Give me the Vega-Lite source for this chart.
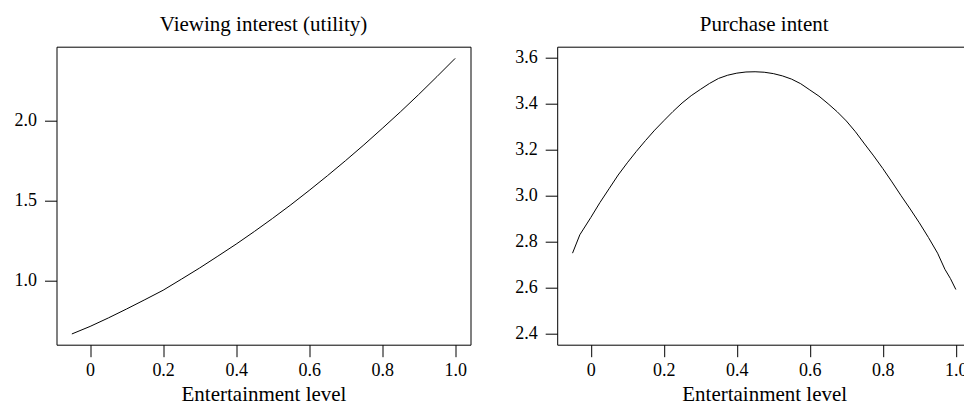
{
  "$schema": "https://vega.github.io/schema/vega-lite/v6.json",
  "padding": {"left": 13.5, "top": 12.7, "right": 0, "bottom": 0},
  "autosize": {"type": "pad"},
  "bounds": "flush",
  "spacing": 86.7,
  "config": {
    "font": "Liberation Serif",
    "view": {"stroke": "black", "strokeWidth": 1},
    "axis": {
      "grid": false,
      "domain": false,
      "ticks": true,
      "tickColor": "black",
      "tickSize": 12,
      "tickWidth": 1,
      "labelColor": "black",
      "labelFont": "Liberation Serif",
      "labelFontSize": 18,
      "titleFont": "Liberation Serif",
      "titleFontSize": 21,
      "titleFontWeight": "normal",
      "titleColor": "black"
    },
    "title": {
      "font": "Liberation Serif",
      "fontSize": 21,
      "fontWeight": "normal",
      "color": "black",
      "baseline": "alphabetic",
      "offset": 12,
      "anchor": "middle"
    }
  },
  "hconcat": [
    {
      "title": "Viewing interest (utility)",
      "width": 414,
      "height": 298,
      "data": {"values": [
        {"x": -0.05, "y": 0.668},
        {"x": 0.0, "y": 0.715},
        {"x": 0.05, "y": 0.768},
        {"x": 0.1, "y": 0.824},
        {"x": 0.15, "y": 0.882},
        {"x": 0.2, "y": 0.941},
        {"x": 0.25, "y": 1.010},
        {"x": 0.3, "y": 1.080},
        {"x": 0.35, "y": 1.154},
        {"x": 0.4, "y": 1.229},
        {"x": 0.45, "y": 1.308},
        {"x": 0.5, "y": 1.390},
        {"x": 0.55, "y": 1.475},
        {"x": 0.6, "y": 1.564},
        {"x": 0.65, "y": 1.656},
        {"x": 0.7, "y": 1.751},
        {"x": 0.75, "y": 1.849},
        {"x": 0.8, "y": 1.951},
        {"x": 0.85, "y": 2.055},
        {"x": 0.9, "y": 2.163},
        {"x": 0.95, "y": 2.275},
        {"x": 1.0, "y": 2.389}
      ]},
      "mark": {"type": "line", "color": "black", "strokeWidth": 1},
      "encoding": {
        "x": {
          "field": "x", "type": "quantitative",
          "scale": {"domain": [-0.092, 1.042], "nice": false, "zero": false},
          "axis": {
            "title": "Entertainment level",
            "values": [0, 0.2, 0.4, 0.6, 0.8, 1.0],
            "labelExpr": "datum.value == 0 ? '0' : format(datum.value, '.1f')",
            "labelFont": "Liberation Serif",
            "titleFont": "Liberation Serif",
            "labelPadding": 5,
            "titleBaseline": "alphabetic",
            "titleY": 55.5
          }
        },
        "y": {
          "field": "y", "type": "quantitative",
          "scale": {"domain": [0.601, 2.462], "nice": false, "zero": false},
          "axis": {
            "title": null,
            "values": [1.0, 1.5, 2.0],
            "format": ".1f",
            "labelFont": "Liberation Serif",
            "labelPadding": 8
          }
        }
      }
    },
    {
      "title": "Purchase intent",
      "width": 414,
      "height": 298,
      "data": {"values": [
        {"x": -0.05, "y": 2.750},
        {"x": -0.04, "y": 2.790},
        {"x": -0.03, "y": 2.830},
        {"x": -0.02, "y": 2.855},
        {"x": 0.0, "y": 2.905},
        {"x": 0.025, "y": 2.970},
        {"x": 0.05, "y": 3.030},
        {"x": 0.075, "y": 3.090},
        {"x": 0.1, "y": 3.143},
        {"x": 0.125, "y": 3.193},
        {"x": 0.15, "y": 3.240},
        {"x": 0.175, "y": 3.285},
        {"x": 0.2, "y": 3.326},
        {"x": 0.225, "y": 3.366},
        {"x": 0.25, "y": 3.403},
        {"x": 0.275, "y": 3.435},
        {"x": 0.3, "y": 3.462},
        {"x": 0.325, "y": 3.488},
        {"x": 0.35, "y": 3.510},
        {"x": 0.375, "y": 3.524},
        {"x": 0.4, "y": 3.533},
        {"x": 0.425, "y": 3.538},
        {"x": 0.45, "y": 3.539},
        {"x": 0.475, "y": 3.537},
        {"x": 0.5, "y": 3.531},
        {"x": 0.525, "y": 3.521},
        {"x": 0.55, "y": 3.507},
        {"x": 0.575, "y": 3.487},
        {"x": 0.6, "y": 3.460},
        {"x": 0.625, "y": 3.433},
        {"x": 0.65, "y": 3.400},
        {"x": 0.675, "y": 3.365},
        {"x": 0.7, "y": 3.325},
        {"x": 0.725, "y": 3.278},
        {"x": 0.75, "y": 3.225},
        {"x": 0.775, "y": 3.173},
        {"x": 0.8, "y": 3.118},
        {"x": 0.825, "y": 3.060},
        {"x": 0.85, "y": 3.000},
        {"x": 0.875, "y": 2.942},
        {"x": 0.9, "y": 2.882},
        {"x": 0.925, "y": 2.818},
        {"x": 0.95, "y": 2.750},
        {"x": 0.97, "y": 2.680},
        {"x": 0.985, "y": 2.640},
        {"x": 1.0, "y": 2.592}
      ]},
      "mark": {"type": "line", "color": "black", "strokeWidth": 1},
      "encoding": {
        "x": {
          "field": "x", "type": "quantitative",
          "scale": {"domain": [-0.092, 1.042], "nice": false, "zero": false},
          "axis": {
            "title": "Entertainment level",
            "values": [0, 0.2, 0.4, 0.6, 0.8, 1.0],
            "labelExpr": "datum.value == 0 ? '0' : format(datum.value, '.1f')",
            "labelFont": "Liberation Serif",
            "titleFont": "Liberation Serif",
            "labelPadding": 5,
            "titleBaseline": "alphabetic",
            "titleY": 55.5
          }
        },
        "y": {
          "field": "y", "type": "quantitative",
          "scale": {"domain": [2.352, 3.648], "nice": false, "zero": false},
          "axis": {
            "title": null,
            "values": [2.4, 2.6, 2.8, 3.0, 3.2, 3.4, 3.6],
            "format": ".1f",
            "labelFont": "Liberation Serif",
            "labelPadding": 8
          }
        }
      }
    }
  ]
}
